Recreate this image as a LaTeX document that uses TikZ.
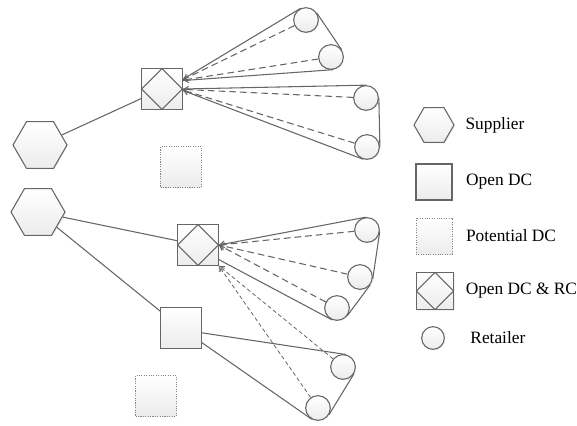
\documentclass[tikz,border=0pt]{standalone}
\usepackage{fontspec}
\setmainfont{Liberation Serif}
\usetikzlibrary{positioning,arrows.meta,shapes.geometric,shadows}
\definecolor{edge}{HTML}{666666}
\definecolor{shade}{HTML}{ececec}

\begin{document}
\begin{tikzpicture}[
    x=0.75pt, y=-0.75pt,
    base/.style = {draw=edge, line width=0.8pt, top color=white, bottom color=shade, inner sep=0pt,
        drop shadow={opacity=0.12, shadow xshift=0.8pt, shadow yshift=-0.8pt}},
    supplier/.style = {base, regular polygon, regular polygon sides=6, minimum size=40.5pt},
    opendc/.style = {base, rectangle, minimum size=30.5pt},
    potdc/.style = {opendc, draw=edge!80, densely dotted, line width=0.6pt},
    rcbox/.style = {opendc, path picture={
        \draw[edge, line width=0.8pt] (path picture bounding box.north) -- (path picture bounding box.east)
            -- (path picture bounding box.south) -- (path picture bounding box.west) -- cycle;}},
    retailer/.style = {base, circle, minimum size=18.5pt},
    route/.style = {draw=edge, line width=0.8pt},
    back/.style = {draw=edge, line width=0.8pt, dash pattern=on 5pt off 3pt, -{Straight Barb[length=3.5pt,width=5pt]}},
    backfine/.style = {back, line width=0.6pt, dash pattern=on 3pt off 2pt},
    lbl/.style = {font=\fontsize{13}{15}\selectfont, inner sep=0pt, anchor=west},
]
    \useasboundingbox (0,0) rectangle (577,425);

    % suppliers
    \node[supplier] (sup1) at (40,145) {};
    \node[supplier] (sup2) at (38,212) {};

    % distribution centres
    \node[rcbox] (rc1) at (162,89) {};
    \node[potdc] (pdc1) at (181,167) {};
    \node[rcbox] (rc2) at (198,245) {};
    \node[opendc] (odc) at (181,328) {};
    \node[potdc] (pdc2) at (156,396) {};

    % retailers
    \node[retailer] (r1) at (306,20) {};
    \node[retailer] (r2) at (331,57) {};
    \node[retailer] (r3) at (366,98) {};
    \node[retailer] (r4) at (367,147) {};
    \node[retailer] (r5) at (367,230) {};
    \node[retailer] (r6) at (360,277) {};
    \node[retailer] (r7) at (337,308) {};
    \node[retailer] (r8) at (343,367) {};
    \node[retailer] (r9) at (318,408) {};

    % supply links
    \draw[route] (sup1) -- (rc1);
    \draw[route] (sup2) -- (rc2);
    \draw[route] (sup2) -- (odc);

    % delivery tours
    \draw[route] (rc1.25) -- (r1.115);
    \draw[route] (r1.34) -- (r2.34);
    \draw[route] (r2.280) -- (rc1.22);
    \draw[route] (rc1.east) -- (r3.88);
    \draw[route] (r3.0) -- (r4.0);
    \draw[route] (r4.253) -- (rc1.-4);
    \draw[route] (rc2.east) -- (r5.96);
    \draw[route] (r5.-8) -- (r6.-8);
    \draw[route] (r6.-37) -- (r7.-37);
    \draw[route] (r7.248) -- (rc2.-35);
    \draw[route] (odc.-13) -- (r8.76);
    \draw[route] (r8.-31) -- (r9.-31);
    \draw[route] (r9.241) -- (odc.-35);

    % returns
    \draw[back] (r1) -- (rc1.24);
    \draw[back] (r2) -- (rc1.23);
    \draw[back] (r3) -- (rc1.-1);
    \draw[back] (r4) -- (rc1.-3);
    \draw[back] (r5) -- (rc2.east);
    \draw[back] (r6) -- (rc2.east);
    \draw[back] (r7) -- (rc2.east);
    \draw[backfine] (r8) -- (rc2.south east);
    \draw[backfine] (r9) -- (rc2.south east);

    % legend
    \node[supplier, minimum size=30pt] (lsup) at (434,125) {};
    \node[opendc, minimum size=27pt] (lodc) at (434,182) {};
    \node[potdc, minimum size=27pt] (lpdc) at (434,236) {};
    \node[rcbox, minimum size=28pt] (lrc) at (435,291) {};
    \node[retailer, minimum size=17pt] (lret) at (433,338) {};
    \node[lbl, right=8pt of lsup] (tsup) {Supplier};
    \node[lbl, right=10pt of lodc] (todc) {Open DC};
    \node[lbl, right=10pt of lpdc] (tpdc) {Potential DC};
    \node[lbl, right=8.5pt of lrc] (trc) {Open DC \& RC};
    \node[lbl, right=19pt of lret] (tret) {Retailer};
\end{tikzpicture}
\end{document}
